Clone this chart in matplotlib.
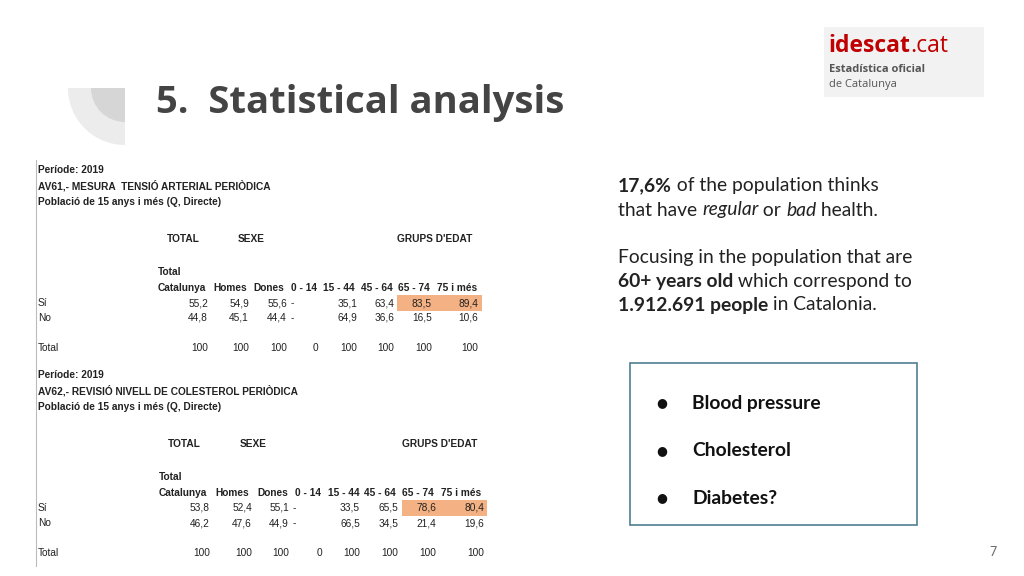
import matplotlib
matplotlib.use("Agg")
import matplotlib.pyplot as plt
from matplotlib.patches import Rectangle, Wedge

# table data
age_cols = ["0 - 14", "15 - 44", "45 - 64", "65 - 74", "75 i més"]
head_cols = ["Catalunya", "Homes", "Dones"] + age_cols
bp_si = [55.2, 54.9, 55.6, None, 35.1, 63.4, 83.5, 89.4]
bp_no = [44.8, 45.1, 44.4, None, 64.9, 36.6, 16.5, 10.6]
bp_total = [100, 100, 100, 0, 100, 100, 100, 100]
ch_si = [53.8, 52.4, 55.1, None, 33.5, 65.5, 78.6, 80.4]
ch_no = [46.2, 47.6, 44.9, None, 66.5, 34.5, 21.4, 19.6]
ch_total = [100, 100, 100, 0, 100, 100, 100, 100]
bullets = ["Blood pressure", "Cholesterol", "Diabetes?"]

fig = plt.figure(figsize=(10.24, 5.76), dpi=100)
ax = fig.add_axes([0, 0, 1, 1])
ax.set_xlim(0, 1024)
ax.set_ylim(576, 0)
ax.axis("off")
fig.canvas.draw()
rend = fig.canvas.get_renderer()


def runs(x, y, parts, size, family="Lato", color="#222222"):
    # draw text pieces side by side: parts = [(text, weight, style)]
    for txt, w, st in parts:
        t = ax.text(x, y, txt, fontsize=size, fontweight=w, fontstyle=st,
                    family=family, color=color, va="center", ha="left")
        bb = t.get_window_extent(rend)
        x += bb.width


def fmt(v):
    if v is None:
        return ""
    if isinstance(v, int):
        return str(v)
    return f"{v:.1f}".replace(".", ",")


# decorative quarter circles
ax.add_patch(Wedge((125, 88), 57, 90, 180, color="#ececec", lw=0))
ax.add_patch(Wedge((125, 88), 34, 90, 180, color="#d6d6d6", lw=0))
ax.text(156, 103, "5.  Statistical analysis", fontsize=27.5, fontweight="bold",
        family="Open Sans", color="#444444", va="center")

# logo
ax.add_patch(Rectangle((824, 27), 160, 70, color="#f2f2f2", lw=0))
runs(828, 46, [("idescat", "bold", "normal"), (".cat", "normal", "normal")], 16.5,
     family="Open Sans", color="#c00000")
ax.text(829, 69, "Estadística oficial", fontsize=8, fontweight="bold",
        family="Open Sans", color="#555555", va="center")
ax.text(829, 84, "de Catalunya", fontsize=8, family="Open Sans",
        color="#555555", va="center")

# left rule
ax.plot([36, 36], [160, 566], color="#bbbbbb", lw=0.8)


def table(y0, code, si, no, tot, vx, hx, hl, title_x):
    kw = dict(fontsize=7.3, family="Liberation Sans", color="#222222", va="center")
    ax.text(38, y0, "Període: 2019", fontweight="bold", **kw)
    ax.text(38, y0 + 16, code, fontweight="bold", **kw)
    ax.text(38, y0 + 32, "Població de 15 anys i més (Q, Directe)", fontweight="bold", **kw)
    ax.text(title_x[0], y0 + 69, "TOTAL", fontweight="bold", **kw)
    ax.text(title_x[1], y0 + 69, "SEXE", fontweight="bold", **kw)
    ax.text(title_x[2], y0 + 69, "GRUPS D'EDAT", fontweight="bold", **kw)
    ax.text(hx[0], y0 + 102, "Total", fontweight="bold", **kw)
    for x, h in zip(hx, head_cols):
        ax.text(x, y0 + 118, h, fontweight="bold", **kw)
    ax.add_patch(Rectangle((hl[0], y0 + 125), hl[1] - hl[0], 16,
                           color="#f4b183", lw=0))
    for yy, lab, vals in [(y0 + 133, "Sí", si), (y0 + 148, "No", no),
                          (y0 + 178, "Total", tot)]:
        ax.text(38, yy, lab, **kw)
        for x, v in zip(vx, vals):
            ax.text(x, yy, fmt(v), ha="right", **kw)
        if vals[3] is None:
            ax.text(vx[2] + 4, yy, "-", **kw)


table(170, "AV61,- MESURA  TENSIÓ ARTERIAL PERIÒDICA", bp_si, bp_no, bp_total,
      [208, 249, 287, 318, 357, 394, 432, 478],
      [158, 213, 253, 291, 323, 361, 398, 437], (397, 482), (167, 238, 397))
table(375, "AV62,- REVISIÓ NIVELL DE COLESTEROL PERIÒDICA", ch_si, ch_no, ch_total,
      [210, 252, 289, 322, 360, 398, 436, 484],
      [159, 215, 257, 295, 328, 364, 402, 441], (402, 487), (168, 240, 402))

# right text
fs = 13.9
runs(618, 186, [("17,6%", "bold", "normal"), (" of the population thinks", "normal", "normal")], fs)
runs(618, 210, [("that have ", "normal", "normal"), ("regular", "normal", "italic"),
                (" or ", "normal", "normal"), ("bad", "normal", "italic"),
                (" health.", "normal", "normal")], fs)
runs(618, 258, [("Focusing in the population that are", "normal", "normal")], fs)
runs(618, 282, [("60+ years old", "bold", "normal"),
                (" which correspond to", "normal", "normal")], fs)
runs(618, 305, [("1.912.691 people", "bold", "normal"),
                (" in Catalonia.", "normal", "normal")], fs)

# bullet box
ax.add_patch(Rectangle((630, 363), 287, 162, fill=False, ec="#4f7f90", lw=1.2))
for i, b in enumerate(bullets):
    y = 403 + i * 47.5
    ax.text(662, y, "●", fontsize=9, color="#111111", va="center", ha="center")
    ax.text(692, y, b, fontsize=13.9, fontweight="bold", family="Lato",
            color="#111111", va="center")

ax.text(993, 552, "7", fontsize=9, family="Lato", color="#666666",
        va="center", ha="center")

fig.savefig("out.png", dpi=100)
